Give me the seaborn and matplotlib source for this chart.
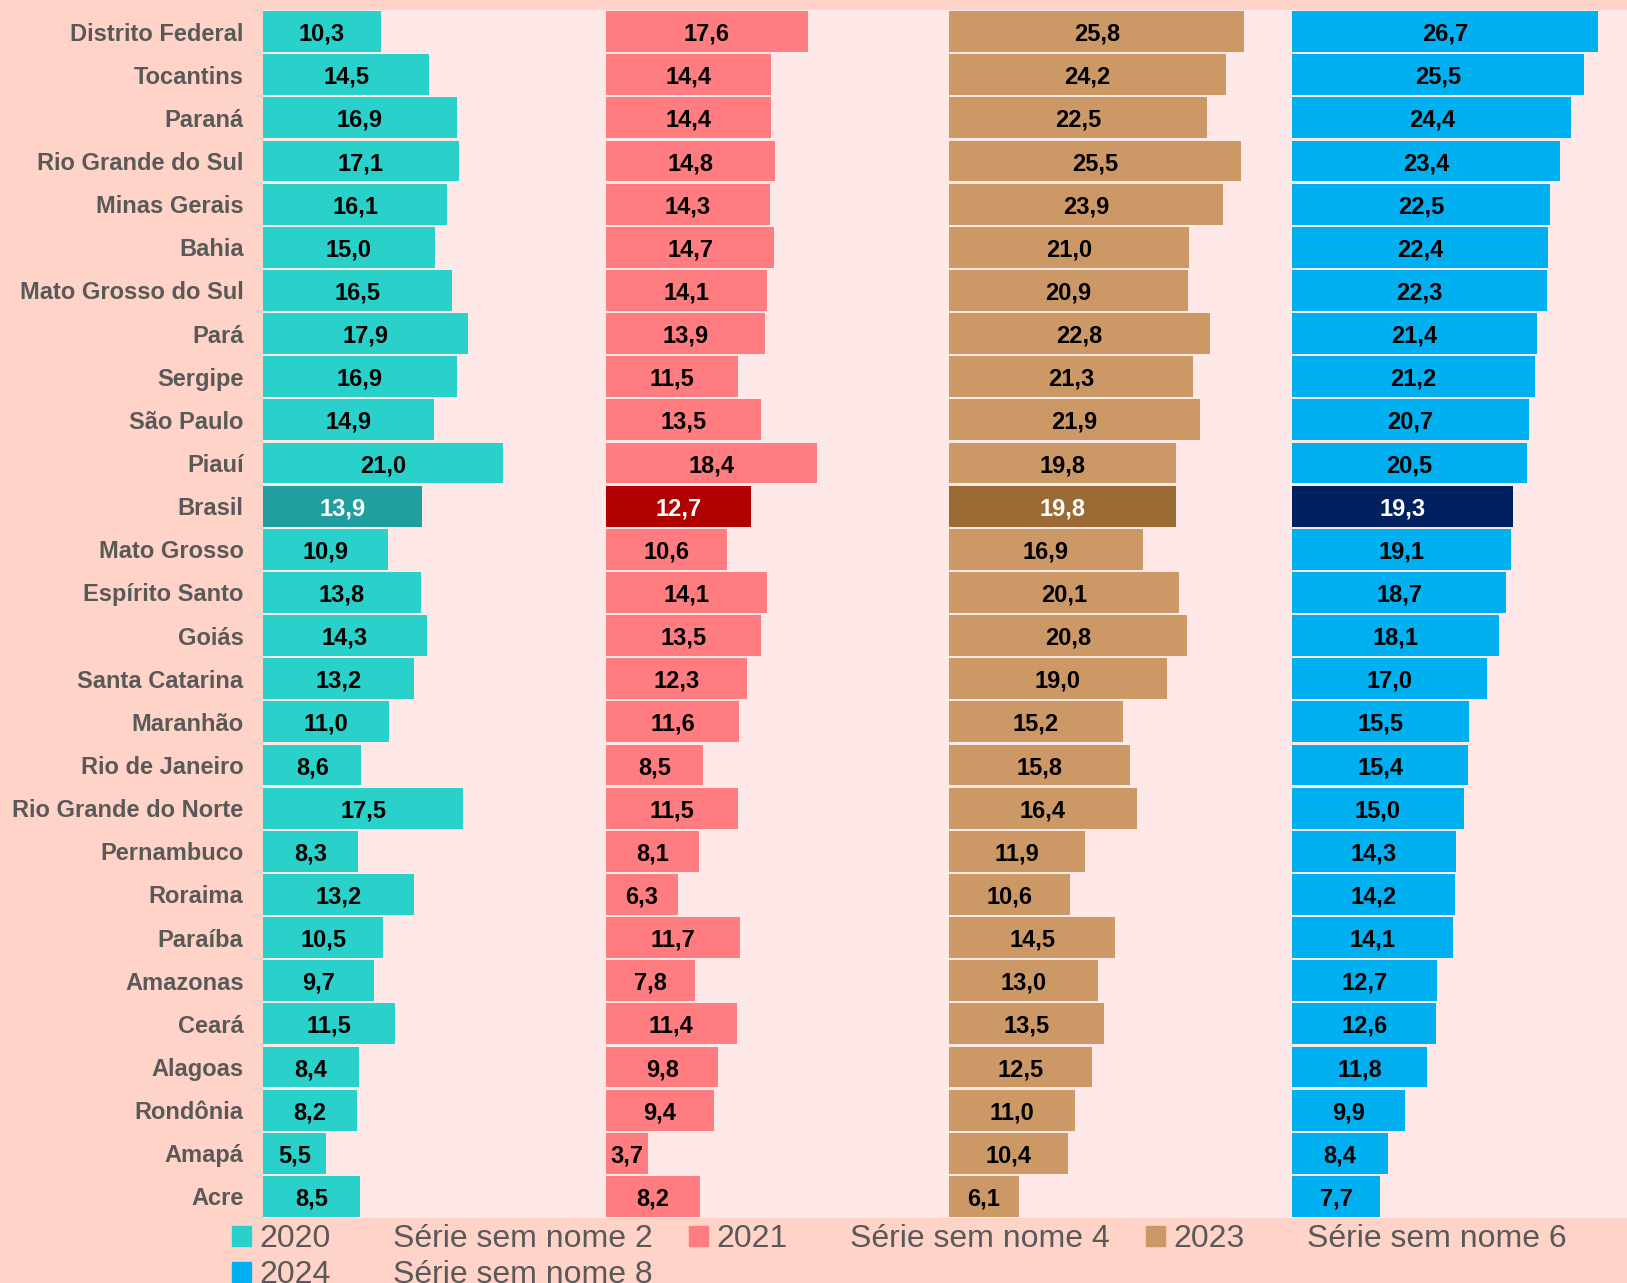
import numpy as np
import pandas as pd
import matplotlib.pyplot as plt
import seaborn as sns
from matplotlib.patches import Patch

# data
states = ["Distrito Federal", "Tocantins", "Paraná", "Rio Grande do Sul", "Minas Gerais",
          "Bahia", "Mato Grosso do Sul", "Pará", "Sergipe", "São Paulo", "Piauí", "Brasil",
          "Mato Grosso", "Espírito Santo", "Goiás", "Santa Catarina", "Maranhão",
          "Rio de Janeiro", "Rio Grande do Norte", "Pernambuco", "Roraima", "Paraíba",
          "Amazonas", "Ceará", "Alagoas", "Rondônia", "Amapá", "Acre"]
v2020 = [10.3, 14.5, 16.9, 17.1, 16.1, 15.0, 16.5, 17.9, 16.9, 14.9, 21.0, 13.9, 10.9, 13.8,
         14.3, 13.2, 11.0, 8.6, 17.5, 8.3, 13.2, 10.5, 9.7, 11.5, 8.4, 8.2, 5.5, 8.5]
v2021 = [17.6, 14.4, 14.4, 14.8, 14.3, 14.7, 14.1, 13.9, 11.5, 13.5, 18.4, 12.7, 10.6, 14.1,
         13.5, 12.3, 11.6, 8.5, 11.5, 8.1, 6.3, 11.7, 7.8, 11.4, 9.8, 9.4, 3.7, 8.2]
v2023 = [25.8, 24.2, 22.5, 25.5, 23.9, 21.0, 20.9, 22.8, 21.3, 21.9, 19.8, 19.8, 16.9, 20.1,
         20.8, 19.0, 15.2, 15.8, 16.4, 11.9, 10.6, 14.5, 13.0, 13.5, 12.5, 11.0, 10.4, 6.1]
v2024 = [26.7, 25.5, 24.4, 23.4, 22.5, 22.4, 22.3, 21.4, 21.2, 20.7, 20.5, 19.3, 19.1, 18.7,
         18.1, 17.0, 15.5, 15.4, 15.0, 14.3, 14.2, 14.1, 12.7, 12.6, 11.8, 9.9, 8.4, 7.7]
years = ["2020", "2021", "2023", "2024"]
series = [v2020, v2021, v2023, v2024]

base_colors = ["#2AD1CA", "#FF7C80", "#CC9966", "#00B0F0"]
brasil_colors = ["#219E9F", "#B00000", "#9C6A35", "#002060"]
outer_bg = "#FFD3C7"
plot_bg = "#FFE9E8"
grey = "#595959"

sns.set_theme(style="white")
plt.rcParams["font.family"] = ["Liberation Sans", "DejaVu Sans"]

W, H = 1627, 1283
fig = plt.figure(figsize=(W / 100, H / 100), dpi=100, facecolor=outer_bg)

x0, panel, top, bottom = 263, 343, 10, 1218
ppu = 11.45  # pixels per unit

for i, (year, vals) in enumerate(zip(years, series)):
    left = x0 + i * panel
    width = min(panel, W - left)
    ax = fig.add_axes([left / W, 1 - bottom / H, width / W, (bottom - top) / H])
    ax.set_facecolor(plot_bg)
    df = pd.DataFrame({"estado": states, "valor": vals})
    pal = [brasil_colors[i] if s == "Brasil" else base_colors[i] for s in states]
    sns.barplot(data=df, x="valor", y="estado", hue="estado", palette=pal, legend=False,
                width=0.95, saturation=1, linewidth=0, ax=ax)
    ax.set_xlim(0, width / ppu)
    ax.set_xlabel("")
    ax.set_ylabel("")
    ax.set_xticks([])
    for sp in ax.spines.values():
        sp.set_visible(False)

    for cont in ax.containers:
        for bar, v in zip(cont, cont.datavalues):
            idx = int(round(bar.get_y() + bar.get_height() / 2))
            col = "white" if states[idx] == "Brasil" else "black"
            ax.text(bar.get_x() + bar.get_width() / 2, bar.get_y() + bar.get_height() / 2,
                    f"{v:.1f}".replace(".", ","), ha="center", va="center_baseline",
                    fontsize=17, fontweight="bold", color=col)

    if i == 0:
        ax.set_yticks(np.arange(-0.5, len(states)), minor=True)
        ax.tick_params(axis="y", which="minor", left=True, length=8, width=1.5, color="#D9D9D9")
        ax.tick_params(axis="y", which="major", left=False, length=0, pad=14,
                       labelsize=17, labelcolor=grey)
        for lbl in ax.get_yticklabels():
            lbl.set_fontweight("bold")
    else:
        ax.set_yticks([])
        ax.tick_params(axis="y", which="both", left=False)

# legend: Excel-style, with the invisible padding series included
def blank():
    return Patch(facecolor="none", edgecolor="none")

handles = [Patch(color=base_colors[0]), Patch(color=base_colors[3]), blank(), blank(),
           Patch(color=base_colors[1]), blank(), Patch(color=base_colors[2]), blank()]
labels = ["2020", "2024", "Série sem nome 2", "Série sem nome 8",
          "2021", "Série sem nome 4", "2023", "Série sem nome 6"]
fig.legend(handles, labels, ncol=6, loc="upper left", bbox_to_anchor=(232 / W, 1 - 1224 / H),
           frameon=False, fontsize=23, labelcolor=grey, handlelength=0.6, handleheight=0.6,
           handletextpad=0.25, columnspacing=1.12, labelspacing=0.2, borderpad=0,
           borderaxespad=0)

fig.savefig("out.png", dpi=100, facecolor=outer_bg)
